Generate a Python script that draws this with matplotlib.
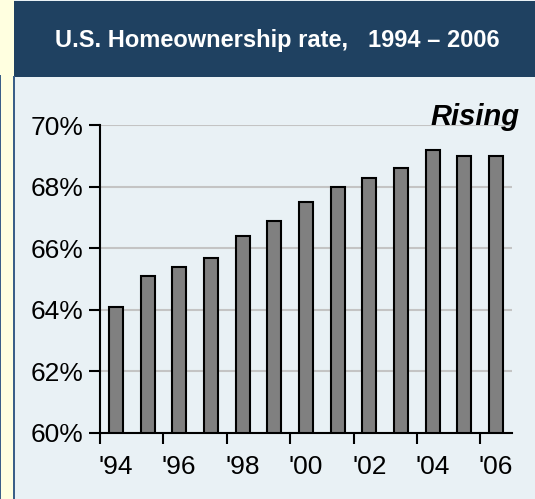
import matplotlib
matplotlib.use("Agg")
import matplotlib.pyplot as plt
from matplotlib.patches import Rectangle

# =========================================================
# DATA
# =========================================================

years = ["'94", "'95", "'96", "'97", "'98", "'99", "'00",
         "'01", "'02", "'03", "'04", "'05", "'06"]
rate = [64.1, 65.1, 65.4, 65.7, 66.4, 66.9, 67.5,
        68.0, 68.3, 68.6, 69.2, 69.0, 69.0]
y_ticks = [60, 62, 64, 66, 68, 70]

TITLE = "U.S. Homeownership rate,   1994 \u2013 2006"
NOTE = "Rising"

# =========================================================
# FIGURE + BACKGROUND PANELS
# =========================================================

W, H = 535, 499
plt.rcParams["font.family"] = ["Liberation Sans", "DejaVu Sans"]

fig = plt.figure(figsize=(W / 100, H / 100), dpi=100)
fig.patch.set_facecolor("#FFFFE0")


def px_rect(x0, y0, x1, y1, **kw):
    # rectangle in pixel coords (origin top-left)
    fig.patches.append(Rectangle((x0 / W, 1 - y1 / H), (x1 - x0) / W, (y1 - y0) / H,
                                 transform=fig.transFigure, **kw))


px_rect(14, 0, W, H, facecolor="#E9F1F5", edgecolor="none", zorder=-3)
px_rect(14, 1, W, 77, facecolor="#1F4161", edgecolor="none", zorder=-2)
px_rect(13, 76, 15, H, facecolor="#3B5F88", edgecolor="none", zorder=-2)
px_rect(0, 75, 1.5, H, facecolor="#3B5F88", edgecolor="none", zorder=-2)

fig.text(277 / W, 1 - 41 / H, TITLE, color="white", fontsize=17,
         fontweight="bold", ha="center", va="center")

# =========================================================
# BAR CHART
# =========================================================

ax_l, ax_r, ax_t, ax_b = 100, 512, 125.3, 433
ax = fig.add_axes([ax_l / W, 1 - ax_b / H, (ax_r - ax_l) / W, (ax_b - ax_t) / H])
ax.set_facecolor("none")
ax.set_zorder(2)

x = range(len(years))
ax.bar(x, rate, width=0.44, bottom=0, color="#808080",
       edgecolor="black", linewidth=1.5, zorder=3)

ax.set_xlim(-0.5, len(years) - 0.5)
ax.set_ylim(y_ticks[0], y_ticks[-1])
ax.set_yticks(y_ticks)
ax.set_yticklabels([f"{v}%" for v in y_ticks])
ax.yaxis.grid(True, color="#C4C4C4", linewidth=1.5, zorder=0)

# tick marks sit on category boundaries, labels on bar centres
ax.set_xticks([i - 0.5 for i in range(0, len(years), 2)])
ax.set_xticklabels([])
ax.set_xticks(list(range(0, len(years), 2)), minor=True)
ax.set_xticklabels(years[::2], minor=True)
ax.tick_params(axis="x", which="major", length=8, width=1.5, direction="out")
ax.tick_params(axis="x", which="minor", length=0, pad=16, labelsize=19)
ax.tick_params(axis="y", length=8, width=1.5, direction="out", labelsize=19, pad=4)

for s in ["top", "right"]:
    ax.spines[s].set_visible(False)
for s in ["left", "bottom"]:
    ax.spines[s].set_linewidth(1.5)
    ax.spines[s].set_zorder(4)

fig.text(519 / W, 1 - 117 / H, NOTE, fontsize=21, fontweight="bold",
         fontstyle="italic", ha="right", va="center")

fig.savefig("out.png", dpi=100)
